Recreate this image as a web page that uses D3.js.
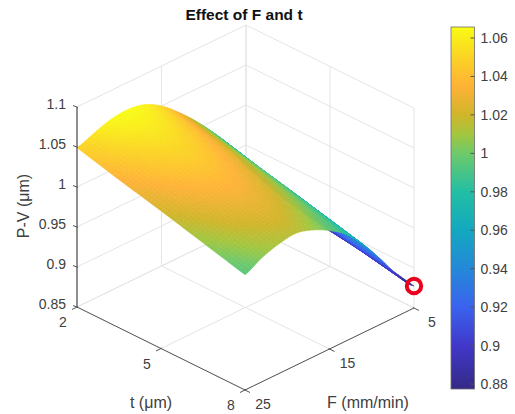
<!DOCTYPE html>
<html>
<head>
<meta charset="utf-8">
<script src="https://cdn.jsdelivr.net/npm/d3@7/dist/d3.min.js"></script>
<style>
    html, body { margin: 0; padding: 0; background: #fff; }
    text { font-family: "Liberation Sans", Arial, sans-serif; }
</style>
</head>
<body>
<div id="chart"></div>
<script>
//data
var f_values = [5, 7, 9, 11, 13, 15, 17, 19, 21, 23, 25];
var t_values = [2, 3.5, 5, 6.5, 8];
var pv_t2 = [0.925, 0.960, 0.987, 1.011, 1.032, 1.050, 1.062, 1.066, 1.064, 1.057, 1.049];
var pv_t35 = [0.905, 0.945, 0.973, 0.998, 1.020, 1.038, 1.049, 1.054, 1.051, 1.044, 1.035];
var pv_t5 = [0.895, 0.925, 0.959, 0.986, 1.008, 1.025, 1.036, 1.041, 1.038, 1.031, 1.022];
var pv_t65 = [0.889, 0.912, 0.946, 0.973, 0.996, 1.012, 1.023, 1.028, 1.025, 1.018, 1.008];
var pv_t8 = [0.8775, 0.902, 0.932, 0.960, 0.983, 0.998, 1.009, 1.015, 1.012, 1.005, 0.994];
var pv_rows = [pv_t2, pv_t35, pv_t5, pv_t65, pv_t8];

var f_ticks = [5, 15, 25];
var t_ticks = [2, 5, 8];
var z_ticks = [0.85, 0.9, 0.95, 1, 1.05, 1.1];
var bar_ticks = [0.88, 0.9, 0.92, 0.94, 0.96, 0.98, 1, 1.02, 1.04, 1.06];

var color_domain = [0.8775, 0.90, 0.92, 0.94, 0.96, 0.98, 1.0, 1.01, 1.02, 1.035, 1.05, 1.0657];
var color_range = ['#352a87', '#4137c9', '#3a63ee', '#2488d8', '#14a8c0', '#22bfa4', '#6ec96a',
    '#a3c63e', '#d0b52a', '#ffb236', '#fbd324', '#f9fb15'];

var width = 515;
var height = 414;

var svg = d3.select('#chart')
    .append('svg')
    .attr('width', width)
    .attr('height', height);

var defs = svg.append('defs');

var color = d3.scaleLinear().domain(color_domain).range(color_range);

//each data axis gives its share of the screen offset
var t_x = d3.scaleLinear().domain([2, 8]).range([0, 168]);
var t_y = d3.scaleLinear().domain([2, 8]).range([0, 83]);
var f_x = d3.scaleLinear().domain([25, 5]).range([0, 169]);
var f_y = d3.scaleLinear().domain([25, 5]).range([0, -82]);
var z_y = d3.scaleLinear().domain([0.85, 1.1]).range([0, -200]);

function project(t, f, z){
    return [77 + t_x(t) + f_x(f), 307 + t_y(t) + f_y(f) + z_y(z)];
}

function line3d(a, b, stroke, w){
    var p = project(a[0], a[1], a[2]);
    var q = project(b[0], b[1], b[2]);
    svg.append('line')
        .attr('x1', p[0]).attr('y1', p[1])
        .attr('x2', q[0]).attr('y2', q[1])
        .style('stroke', stroke)
        .style('stroke-width', w);
}

function label(x, y, str, anchor, size){
    return svg.append('text')
        .attr('x', x)
        .attr('y', y)
        .attr('text-anchor', anchor || 'middle')
        .style('font-size', (size || 14) + 'px')
        .style('fill', '#404040')
        .text(str);
}

function grid(){
    var c = '#e4e4e4';
    z_ticks.forEach(function(z){
        line3d([2, 25, z], [2, 5, z], c, 1);
        line3d([2, 5, z], [8, 5, z], c, 1);
    });
    f_ticks.forEach(function(f){
        line3d([2, f, 0.85], [2, f, 1.1], c, 1);
        line3d([2, f, 0.85], [8, f, 0.85], c, 1);
    });
    t_ticks.forEach(function(t){
        line3d([t, 5, 0.85], [t, 5, 1.1], c, 1);
        line3d([t, 25, 0.85], [t, 5, 0.85], c, 1);
    });
}

function axes(){
    var c = '#555555';
    line3d([2, 25, 0.85], [2, 25, 1.1], '#777777', 1.6);
    line3d([2, 25, 0.85], [8, 25, 0.85], c, 1);
    line3d([8, 25, 0.85], [8, 5, 0.85], c, 1);

    z_ticks.forEach(function(z){
        var p = project(2, 25, z);
        svg.append('line')
            .attr('x1', p[0] - 4).attr('y1', p[1] - 1.5)
            .attr('x2', p[0] + 1).attr('y2', p[1] + 0.5)
            .style('stroke', c);
        label(p[0] - 11, p[1] + 2, d3.format('')(z), 'end');
    });
    t_ticks.forEach(function(t){
        var p = project(t, 25, 0.85);
        svg.append('line')
            .attr('x1', p[0] - 5).attr('y1', p[1] + 2.5)
            .attr('x2', p[0] + 1).attr('y2', p[1] - 0.5)
            .style('stroke', c);
        label(p[0] - 14, p[1] + 20, t);
    });
    f_ticks.forEach(function(f){
        var p = project(8, f, 0.85);
        svg.append('line')
            .attr('x1', p[0] - 1).attr('y1', p[1] - 0.5)
            .attr('x2', p[0] + 5).attr('y2', p[1] + 2.5)
            .style('stroke', c);
        label(p[0] + 18, p[1] + 19, f);
    });
}

//smooth shading of the mesh between table points, like interp shading
function spline(p0, p1, p2, p3, u){
    return 0.5 * (2 * p1 + (p2 - p0) * u + (2 * p0 - 5 * p1 + 4 * p2 - p3) * u * u
        + (3 * p1 - p0 - 3 * p2 + p3) * u * u * u);
}

function rowZ(row, j, u){
    var n = row.length - 1;
    return spline(
        row[Math.max(j - 1, 0)] , row[j], row[j + 1], row[Math.min(j + 2, n)], u);
}

function cellZ(i, j, u, v){
    var a = rowZ(pv_rows[i], j, u);
    var b = rowZ(pv_rows[i + 1], j, u);
    return a + (b - a) * v;
}

function surface(){
    var steps_f = 6;
    var steps_t = 14;
    defs.append('filter')
        .attr('id', 'soft')
        .append('feGaussianBlur')
        .attr('stdDeviation', 0.5);
    var group = svg.append('g')
        .attr('class', 'surface')
        .attr('filter', 'url(#soft)');
    var line = d3.line();

    //back corner first so the front covers it
    for(var i = 0; i < t_values.length - 1; i++){
        var t0 = t_values[i];
        var t1 = t_values[i + 1];
        for(var sv = 0; sv < steps_t; sv++){
            var v0 = sv / steps_t;
            var v1 = (sv + 1) / steps_t;
            for(var j = 0; j < f_values.length - 1; j++){
                var f0 = f_values[j];
                var f1 = f_values[j + 1];
                for(var su = 0; su < steps_f; su++){
                    var u0 = su / steps_f;
                    var u1 = (su + 1) / steps_f;
                    var pts = [
                        project(t0 + (t1 - t0) * v0, f0 + (f1 - f0) * u0, cellZ(i, j, u0, v0)),
                        project(t0 + (t1 - t0) * v0, f0 + (f1 - f0) * u1, cellZ(i, j, u1, v0)),
                        project(t0 + (t1 - t0) * v1, f0 + (f1 - f0) * u1, cellZ(i, j, u1, v1)),
                        project(t0 + (t1 - t0) * v1, f0 + (f1 - f0) * u0, cellZ(i, j, u0, v1))
                    ];
                    var col = color(cellZ(i, j, (u0 + u1) / 2, (v0 + v1) / 2));
                    group.append('path')
                        .attr('d', line(pts) + 'Z')
                        .style('fill', col)
                        .style('stroke', col)
                        .style('stroke-width', 0.5);
                }
            }
        }
    }
}

function marker(){
    var p = project(t_values[4], f_values[0], pv_t8[0]);
    svg.append('circle')
        .attr('cx', p[0])
        .attr('cy', p[1])
        .attr('r', 7.2)
        .style('fill', 'none')
        .style('stroke', '#e8001c')
        .style('stroke-width', 4);
}

function colorbar(){
    var x0 = 451;
    var w = 23.5;
    var bar_y = d3.scaleLinear().domain([0.88, 1.06]).range([384, 38]);
    var top = bar_y.invert(27);
    var bottom = bar_y.invert(389);

    var grad = defs.append('linearGradient')
        .attr('id', 'bar_grad')
        .attr('x1', 0).attr('y1', 1)
        .attr('x2', 0).attr('y2', 0);
    color_domain.forEach(function(d, i){
        grad.append('stop')
            .attr('offset', (d - bottom) / (top - bottom))
            .attr('stop-color', color_range[i]);
    });

    svg.append('rect')
        .attr('x', x0)
        .attr('y', 27)
        .attr('width', w)
        .attr('height', 362)
        .style('fill', 'url(#bar_grad)')
        .style('stroke', '#6e6e6e')
        .style('stroke-width', 0.8);

    bar_ticks.forEach(function(d){
        svg.append('line')
            .attr('x1', x0 + w - 4).attr('x2', x0 + w)
            .attr('y1', bar_y(d)).attr('y2', bar_y(d))
            .style('stroke', '#555555');
        label(x0 + w + 6, bar_y(d) + 5, d3.format('')(d), 'start');
    });
}

grid();
surface();
axes();
marker();
colorbar();

svg.append('text')
    .attr('x', 244)
    .attr('y', 20)
    .attr('text-anchor', 'middle')
    .style('font-size', '15.5px')
    .style('font-weight', 'bold')
    .style('fill', '#111111')
    .text('Effect of F and t');

label(151, 408, 't (μm)', 'middle', 16);
label(368, 408, 'F (mm/min)', 'middle', 16);
label(0, 0, 'P-V (μm)', 'middle', 16)
    .attr('transform', 'translate(29,206) rotate(-90)');
</script>
</body>
</html>
